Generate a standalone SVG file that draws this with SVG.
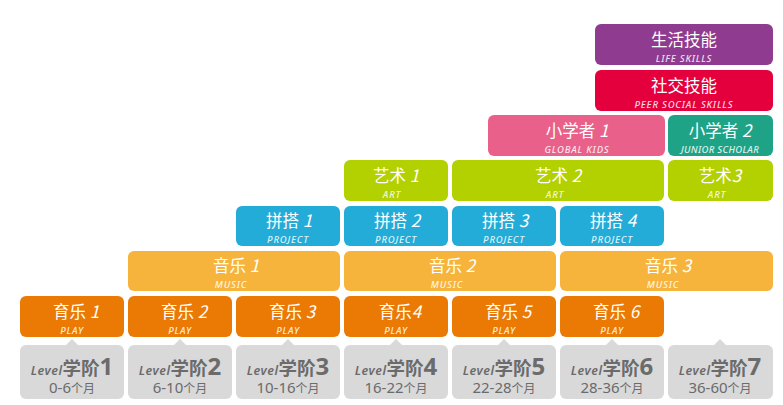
<svg xmlns="http://www.w3.org/2000/svg" width="783" height="405" viewBox="0 0 783 405">
<style>
.t{font-family:"Noto Sans CJK SC","Noto Sans",sans-serif;font-size:16.5px;fill:#fff;text-anchor:middle}
.t tspan.n{font-style:italic;font-size:17px}
.s{font-family:"Noto Sans",sans-serif;font-size:9.5px;font-style:italic;font-weight:500;fill:#fff;fill-opacity:0.85;text-anchor:middle;letter-spacing:0.8px}
.g{fill:#d9d9d9}
.l1{font-family:"Noto Sans","Noto Sans CJK SC",sans-serif;fill:#6b6b6b;text-anchor:middle;font-weight:bold}
.lv{font-size:12.5px;font-style:italic;font-weight:600;letter-spacing:0.5px}
.xj{font-family:"Noto Sans CJK SC",sans-serif;font-size:18.5px}
.dg{font-size:24px}
.l2{font-family:"Noto Sans","Noto Sans CJK SC",sans-serif;fill:#6b6b6b;text-anchor:middle;font-size:15px}
.l2 tspan{font-family:"Noto Sans CJK SC",sans-serif;font-size:12px}
</style>
<g id="life-skills"><rect x="595" y="24" width="178" height="41" rx="6" fill="#8f3b8f"/><text class="t" x="684" y="46">生活技能</text><text class="s" x="684" y="61.5">LIFE SKILLS</text></g>
<g id="peer-social"><rect x="595" y="70" width="178" height="41" rx="6" fill="#e4003c"/><text class="t" x="684" y="92">社交技能</text><text class="s" x="684" y="107.5">PEER SOCIAL SKILLS</text></g>
<g id="global-kids"><rect x="488" y="115" width="177" height="41" rx="6" fill="#e9618a"/><text class="t" x="577" y="137">小学者<tspan class="n"> 1</tspan></text><text class="s" x="577" y="152.5">GLOBAL KIDS</text></g>
<g id="junior-scholar"><rect x="668" y="115" width="105" height="41" rx="6" fill="#1fa387"/><text class="t" x="720" y="137">小学者<tspan class="n"> 2</tspan></text><text class="s" x="720" y="152.5" style="letter-spacing:0.3px">JUNIOR SCHOLAR</text></g>
<g id="art1"><rect x="344" y="160" width="104" height="41" rx="6" fill="#b3d000"/><text class="t" x="396" y="182">艺术<tspan class="n"> 1</tspan></text><text class="s" x="392" y="197.5">ART</text></g>
<g id="art2"><rect x="452" y="160" width="212" height="41" rx="6" fill="#b3d000"/><text class="t" x="558" y="182">艺术<tspan class="n"> 2</tspan></text><text class="s" x="555" y="197.5">ART</text></g>
<g id="art3"><rect x="668" y="160" width="105" height="41" rx="6" fill="#b3d000"/><text class="t" x="720" y="182">艺术<tspan class="n">3</tspan></text><text class="s" x="717" y="197.5">ART</text></g>
<g id="project1"><rect x="236" y="206" width="104" height="40" rx="6" fill="#23acd8"/><text class="t" x="289" y="227">拼搭<tspan class="n"> 1</tspan></text><text class="s" x="288" y="242.5">PROJECT</text></g>
<g id="project2"><rect x="344" y="206" width="104" height="40" rx="6" fill="#23acd8"/><text class="t" x="397" y="227">拼搭<tspan class="n"> 2</tspan></text><text class="s" x="396" y="242.5">PROJECT</text></g>
<g id="project3"><rect x="452" y="206" width="104" height="40" rx="6" fill="#23acd8"/><text class="t" x="505" y="227">拼搭<tspan class="n"> 3</tspan></text><text class="s" x="504" y="242.5">PROJECT</text></g>
<g id="project4"><rect x="560" y="206" width="104" height="40" rx="6" fill="#23acd8"/><text class="t" x="613" y="227">拼搭<tspan class="n"> 4</tspan></text><text class="s" x="612" y="242.5">PROJECT</text></g>
<g id="music1"><rect x="128" y="251" width="212" height="40" rx="6" fill="#f6b43c"/><text class="t" x="236" y="272">音乐<tspan class="n"> 1</tspan></text><text class="s" x="231" y="287.5">MUSIC</text></g>
<g id="music2"><rect x="344" y="251" width="212" height="40" rx="6" fill="#f6b43c"/><text class="t" x="452" y="272">音乐<tspan class="n"> 2</tspan></text><text class="s" x="447" y="287.5">MUSIC</text></g>
<g id="music3"><rect x="560" y="251" width="213" height="40" rx="6" fill="#f6b43c"/><text class="t" x="668" y="272">音乐<tspan class="n"> 3</tspan></text><text class="s" x="663" y="287.5">MUSIC</text></g>
<g id="play1"><rect x="20" y="296" width="104" height="41" rx="6" fill="#eb7a05"/><text class="t" x="76" y="318">育乐<tspan class="n"> 1</tspan></text><text class="s" x="72" y="333.5">PLAY</text></g>
<g id="play2"><rect x="128" y="296" width="104" height="41" rx="6" fill="#eb7a05"/><text class="t" x="184" y="318">育乐<tspan class="n"> 2</tspan></text><text class="s" x="180" y="333.5">PLAY</text></g>
<g id="play3"><rect x="236" y="296" width="104" height="41" rx="6" fill="#eb7a05"/><text class="t" x="292" y="318">育乐<tspan class="n"> 3</tspan></text><text class="s" x="288" y="333.5">PLAY</text></g>
<g id="play4"><rect x="344" y="296" width="104" height="41" rx="6" fill="#eb7a05"/><text class="t" x="400" y="318">育乐<tspan class="n">4</tspan></text><text class="s" x="396" y="333.5">PLAY</text></g>
<g id="play5"><rect x="452" y="296" width="104" height="41" rx="6" fill="#eb7a05"/><text class="t" x="508" y="318">育乐<tspan class="n"> 5</tspan></text><text class="s" x="504" y="333.5">PLAY</text></g>
<g id="play6"><rect x="560" y="296" width="104" height="41" rx="6" fill="#eb7a05"/><text class="t" x="616" y="318">育乐<tspan class="n"> 6</tspan></text><text class="s" x="612" y="333.5">PLAY</text></g>
<g id="level1"><path class="g" d="M66 345 L72 339 L78 345 Z"/><rect class="g" x="20" y="345" width="104" height="54" rx="6"/><text class="l1" x="72" y="375"><tspan class="lv">Level</tspan><tspan class="xj">学阶</tspan><tspan class="dg">1</tspan></text><text class="l2" x="72" y="393">0-6<tspan>个月</tspan></text></g>
<g id="level2"><path class="g" d="M174 345 L180 339 L186 345 Z"/><rect class="g" x="128" y="345" width="104" height="54" rx="6"/><text class="l1" x="180" y="375"><tspan class="lv">Level</tspan><tspan class="xj">学阶</tspan><tspan class="dg">2</tspan></text><text class="l2" x="180" y="393">6-10<tspan>个月</tspan></text></g>
<g id="level3"><path class="g" d="M282 345 L288 339 L294 345 Z"/><rect class="g" x="236" y="345" width="104" height="54" rx="6"/><text class="l1" x="288" y="375"><tspan class="lv">Level</tspan><tspan class="xj">学阶</tspan><tspan class="dg">3</tspan></text><text class="l2" x="288" y="393">10-16<tspan>个月</tspan></text></g>
<g id="level4"><path class="g" d="M390 345 L396 339 L402 345 Z"/><rect class="g" x="344" y="345" width="104" height="54" rx="6"/><text class="l1" x="396" y="375"><tspan class="lv">Level</tspan><tspan class="xj">学阶</tspan><tspan class="dg">4</tspan></text><text class="l2" x="396" y="393">16-22<tspan>个月</tspan></text></g>
<g id="level5"><path class="g" d="M498 345 L504 339 L510 345 Z"/><rect class="g" x="452" y="345" width="104" height="54" rx="6"/><text class="l1" x="504" y="375"><tspan class="lv">Level</tspan><tspan class="xj">学阶</tspan><tspan class="dg">5</tspan></text><text class="l2" x="504" y="393">22-28<tspan>个月</tspan></text></g>
<g id="level6"><path class="g" d="M606 345 L612 339 L618 345 Z"/><rect class="g" x="560" y="345" width="104" height="54" rx="6"/><text class="l1" x="612" y="375"><tspan class="lv">Level</tspan><tspan class="xj">学阶</tspan><tspan class="dg">6</tspan></text><text class="l2" x="612" y="393">28-36<tspan>个月</tspan></text></g>
<g id="level7"><path class="g" d="M714 345 L720 339 L726 345 Z"/><rect class="g" x="668" y="345" width="105" height="54" rx="6"/><text class="l1" x="720" y="375"><tspan class="lv">Level</tspan><tspan class="xj">学阶</tspan><tspan class="dg">7</tspan></text><text class="l2" x="720" y="393">36-60<tspan>个月</tspan></text></g>
<g id="connectors"></g>
</svg>
